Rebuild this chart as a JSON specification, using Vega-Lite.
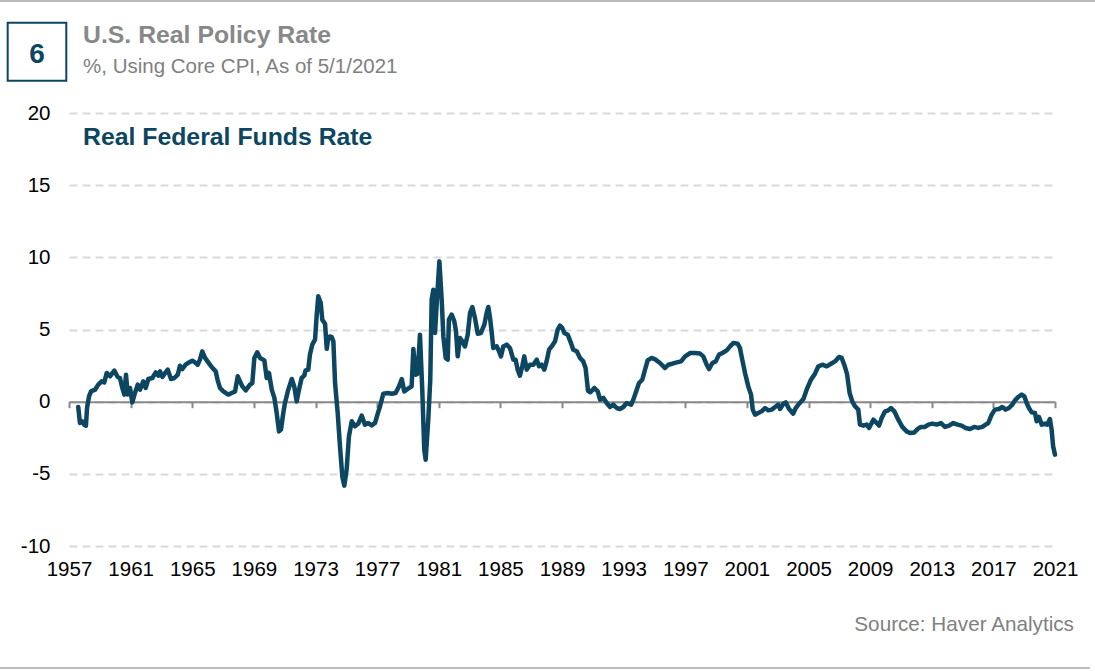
{
"$schema": "https://vega.github.io/schema/vega-lite/v6.json",
"width": 986,
"height": 433,
"autosize": {"type": "none"},
"padding": {"left": 69, "top": 113, "right": 40, "bottom": 125},
"background": "#ffffff",
"config": {"view": {"stroke": null}, "font": "Liberation Sans"},
"datasets": {"series": [
{"year":1957.60,"rate":-0.37},{"year":1957.71,"rate":-1.48},{"year":1957.86,"rate":-1.36},{"year":1957.99,"rate":-1.60},{"year":1958.10,"rate":-1.66},{"year":1958.17,"rate":-0.44},{"year":1958.30,"rate":0.37},{"year":1958.43,"rate":0.71},{"year":1958.69,"rate":0.83},{"year":1958.90,"rate":1.18},{"year":1959.12,"rate":1.41},{"year":1959.29,"rate":1.34},{"year":1959.45,"rate":1.99},{"year":1959.66,"rate":1.76},{"year":1959.94,"rate":2.15},{"year":1960.16,"rate":1.71},{"year":1960.31,"rate":1.64},{"year":1960.46,"rate":0.95},{"year":1960.59,"rate":0.49},{"year":1960.70,"rate":1.87},{"year":1960.81,"rate":0.49},{"year":1960.96,"rate":0.95},{"year":1961.11,"rate":-0.05},{"year":1961.28,"rate":0.60},{"year":1961.46,"rate":1.18},{"year":1961.61,"rate":0.83},{"year":1961.82,"rate":1.41},{"year":1961.98,"rate":0.95},{"year":1962.15,"rate":1.57},{"year":1962.41,"rate":1.64},{"year":1962.63,"rate":2.03},{"year":1962.80,"rate":1.80},{"year":1962.91,"rate":2.10},{"year":1963.06,"rate":1.71},{"year":1963.24,"rate":1.99},{"year":1963.41,"rate":2.22},{"year":1963.62,"rate":1.57},{"year":1963.84,"rate":1.64},{"year":1964.06,"rate":1.87},{"year":1964.20,"rate":2.49},{"year":1964.35,"rate":2.26},{"year":1964.57,"rate":2.56},{"year":1964.79,"rate":2.72},{"year":1965.00,"rate":2.84},{"year":1965.18,"rate":2.72},{"year":1965.35,"rate":2.56},{"year":1965.50,"rate":2.91},{"year":1965.65,"rate":3.49},{"year":1965.83,"rate":3.03},{"year":1966.04,"rate":2.72},{"year":1966.26,"rate":2.40},{"year":1966.52,"rate":2.10},{"year":1966.65,"rate":1.48},{"year":1966.80,"rate":0.95},{"year":1967.02,"rate":0.71},{"year":1967.34,"rate":0.49},{"year":1967.56,"rate":0.60},{"year":1967.78,"rate":0.71},{"year":1967.95,"rate":1.76},{"year":1968.10,"rate":1.41},{"year":1968.25,"rate":1.06},{"year":1968.47,"rate":0.78},{"year":1968.75,"rate":1.18},{"year":1968.90,"rate":1.29},{"year":1969.03,"rate":3.03},{"year":1969.22,"rate":3.42},{"year":1969.40,"rate":3.03},{"year":1969.68,"rate":2.86},{"year":1969.83,"rate":1.64},{"year":1969.98,"rate":1.99},{"year":1970.16,"rate":0.83},{"year":1970.33,"rate":0.26},{"year":1970.48,"rate":-0.78},{"year":1970.63,"rate":-2.06},{"year":1970.76,"rate":-1.94},{"year":1970.91,"rate":-0.78},{"year":1971.02,"rate":-0.09},{"year":1971.20,"rate":0.71},{"year":1971.46,"rate":1.57},{"year":1971.62,"rate":1.06},{"year":1971.78,"rate":0.02},{"year":1971.93,"rate":0.83},{"year":1972.10,"rate":1.64},{"year":1972.27,"rate":1.80},{"year":1972.36,"rate":2.17},{"year":1972.53,"rate":2.22},{"year":1972.64,"rate":3.26},{"year":1972.79,"rate":3.95},{"year":1972.97,"rate":4.30},{"year":1973.08,"rate":6.03},{"year":1973.18,"rate":7.30},{"year":1973.34,"rate":6.84},{"year":1973.44,"rate":5.68},{"year":1973.62,"rate":5.40},{"year":1973.73,"rate":3.66},{"year":1973.83,"rate":4.41},{"year":1973.92,"rate":4.52},{"year":1974.05,"rate":4.48},{"year":1974.16,"rate":4.18},{"year":1974.27,"rate":1.29},{"year":1974.44,"rate":-0.78},{"year":1974.59,"rate":-3.10},{"year":1974.74,"rate":-5.18},{"year":1974.87,"rate":-5.82},{"year":1975.02,"rate":-4.71},{"year":1975.17,"rate":-2.40},{"year":1975.35,"rate":-1.36},{"year":1975.56,"rate":-1.71},{"year":1975.78,"rate":-1.52},{"year":1976.00,"rate":-0.97},{"year":1976.21,"rate":-1.59},{"year":1976.43,"rate":-1.48},{"year":1976.65,"rate":-1.64},{"year":1976.86,"rate":-1.48},{"year":1977.04,"rate":-0.83},{"year":1977.19,"rate":-0.32},{"year":1977.40,"rate":0.55},{"year":1977.69,"rate":0.60},{"year":1977.95,"rate":0.55},{"year":1978.20,"rate":0.60},{"year":1978.42,"rate":1.06},{"year":1978.60,"rate":1.57},{"year":1978.76,"rate":0.71},{"year":1978.98,"rate":0.88},{"year":1979.24,"rate":1.06},{"year":1979.35,"rate":3.65},{"year":1979.50,"rate":1.87},{"year":1979.63,"rate":1.94},{"year":1979.78,"rate":4.64},{"year":1979.93,"rate":0.83},{"year":1980.06,"rate":-3.33},{"year":1980.15,"rate":-4.02},{"year":1980.32,"rate":-1.25},{"year":1980.45,"rate":1.52},{"year":1980.54,"rate":7.07},{"year":1980.65,"rate":7.76},{"year":1980.76,"rate":4.76},{"year":1980.87,"rate":6.84},{"year":1981.04,"rate":9.72},{"year":1981.19,"rate":7.07},{"year":1981.30,"rate":4.52},{"year":1981.45,"rate":3.03},{"year":1981.58,"rate":2.91},{"year":1981.66,"rate":5.68},{"year":1981.84,"rate":6.03},{"year":1982.01,"rate":5.56},{"year":1982.12,"rate":4.87},{"year":1982.23,"rate":3.14},{"year":1982.38,"rate":4.41},{"year":1982.53,"rate":4.18},{"year":1982.70,"rate":3.83},{"year":1982.88,"rate":4.64},{"year":1983.03,"rate":6.15},{"year":1983.18,"rate":6.56},{"year":1983.35,"rate":5.80},{"year":1983.53,"rate":4.71},{"year":1983.74,"rate":4.76},{"year":1983.96,"rate":5.34},{"year":1984.11,"rate":6.15},{"year":1984.22,"rate":6.56},{"year":1984.33,"rate":5.80},{"year":1984.44,"rate":4.76},{"year":1984.54,"rate":3.72},{"year":1984.76,"rate":3.83},{"year":1984.87,"rate":3.60},{"year":1985.04,"rate":3.14},{"year":1985.19,"rate":3.83},{"year":1985.41,"rate":3.95},{"year":1985.62,"rate":3.72},{"year":1985.84,"rate":2.91},{"year":1985.99,"rate":2.91},{"year":1986.12,"rate":2.22},{"year":1986.27,"rate":1.80},{"year":1986.42,"rate":2.45},{"year":1986.55,"rate":3.14},{"year":1986.71,"rate":2.22},{"year":1986.92,"rate":2.56},{"year":1987.14,"rate":2.56},{"year":1987.36,"rate":2.91},{"year":1987.51,"rate":2.45},{"year":1987.68,"rate":2.56},{"year":1987.85,"rate":2.22},{"year":1988.00,"rate":2.79},{"year":1988.16,"rate":3.60},{"year":1988.33,"rate":3.83},{"year":1988.55,"rate":4.18},{"year":1988.72,"rate":4.99},{"year":1988.87,"rate":5.27},{"year":1989.02,"rate":5.10},{"year":1989.15,"rate":4.76},{"year":1989.37,"rate":4.64},{"year":1989.58,"rate":4.07},{"year":1989.73,"rate":3.60},{"year":1989.96,"rate":3.49},{"year":1990.17,"rate":3.03},{"year":1990.38,"rate":2.79},{"year":1990.53,"rate":2.33},{"year":1990.69,"rate":0.75},{"year":1990.84,"rate":0.65},{"year":1991.10,"rate":0.95},{"year":1991.32,"rate":0.71},{"year":1991.47,"rate":0.14},{"year":1991.69,"rate":0.26},{"year":1991.90,"rate":-0.09},{"year":1992.12,"rate":-0.37},{"year":1992.33,"rate":-0.21},{"year":1992.55,"rate":-0.44},{"year":1992.76,"rate":-0.51},{"year":1992.98,"rate":-0.37},{"year":1993.20,"rate":-0.09},{"year":1993.48,"rate":-0.21},{"year":1993.63,"rate":0.14},{"year":1993.85,"rate":0.83},{"year":1994.00,"rate":1.29},{"year":1994.21,"rate":1.52},{"year":1994.39,"rate":2.22},{"year":1994.56,"rate":2.86},{"year":1994.82,"rate":3.03},{"year":1995.08,"rate":2.91},{"year":1995.36,"rate":2.68},{"year":1995.69,"rate":2.33},{"year":1995.90,"rate":2.56},{"year":1996.16,"rate":2.63},{"year":1996.45,"rate":2.72},{"year":1996.73,"rate":2.79},{"year":1996.99,"rate":3.14},{"year":1997.31,"rate":3.37},{"year":1997.64,"rate":3.37},{"year":1997.96,"rate":3.33},{"year":1998.17,"rate":3.14},{"year":1998.39,"rate":2.56},{"year":1998.54,"rate":2.26},{"year":1998.76,"rate":2.68},{"year":1998.98,"rate":2.79},{"year":1999.19,"rate":3.26},{"year":1999.41,"rate":3.37},{"year":1999.69,"rate":3.55},{"year":1999.91,"rate":3.83},{"year":2000.12,"rate":4.07},{"year":2000.40,"rate":4.02},{"year":2000.55,"rate":3.72},{"year":2000.70,"rate":2.91},{"year":2000.88,"rate":1.99},{"year":2001.09,"rate":1.06},{"year":2001.27,"rate":0.49},{"year":2001.38,"rate":-0.55},{"year":2001.53,"rate":-0.90},{"year":2001.74,"rate":-0.78},{"year":2001.96,"rate":-0.67},{"year":2002.18,"rate":-0.44},{"year":2002.39,"rate":-0.60},{"year":2002.61,"rate":-0.55},{"year":2002.83,"rate":-0.37},{"year":2003.04,"rate":-0.21},{"year":2003.15,"rate":-0.51},{"year":2003.37,"rate":-0.14},{"year":2003.52,"rate":-0.05},{"year":2003.74,"rate":-0.51},{"year":2004.01,"rate":-0.83},{"year":2004.17,"rate":-0.44},{"year":2004.39,"rate":-0.14},{"year":2004.67,"rate":0.19},{"year":2004.88,"rate":0.83},{"year":2005.16,"rate":1.52},{"year":2005.42,"rate":1.94},{"year":2005.64,"rate":2.45},{"year":2005.90,"rate":2.56},{"year":2006.18,"rate":2.45},{"year":2006.46,"rate":2.63},{"year":2006.72,"rate":2.79},{"year":2006.98,"rate":3.10},{"year":2007.15,"rate":3.03},{"year":2007.32,"rate":2.56},{"year":2007.50,"rate":1.93},{"year":2007.67,"rate":0.60},{"year":2007.84,"rate":0.02},{"year":2008.02,"rate":-0.32},{"year":2008.23,"rate":-0.55},{"year":2008.34,"rate":-1.59},{"year":2008.56,"rate":-1.66},{"year":2008.78,"rate":-1.59},{"year":2008.93,"rate":-1.82},{"year":2009.21,"rate":-1.25},{"year":2009.43,"rate":-1.48},{"year":2009.58,"rate":-1.66},{"year":2009.75,"rate":-1.13},{"year":2009.97,"rate":-0.67},{"year":2010.18,"rate":-0.60},{"year":2010.36,"rate":-0.44},{"year":2010.57,"rate":-0.67},{"year":2010.83,"rate":-1.25},{"year":2011.09,"rate":-1.75},{"year":2011.37,"rate":-2.06},{"year":2011.59,"rate":-2.17},{"year":2011.87,"rate":-2.13},{"year":2012.09,"rate":-1.89},{"year":2012.30,"rate":-1.75},{"year":2012.56,"rate":-1.75},{"year":2012.78,"rate":-1.59},{"year":2013.04,"rate":-1.52},{"year":2013.32,"rate":-1.59},{"year":2013.60,"rate":-1.48},{"year":2013.86,"rate":-1.75},{"year":2014.12,"rate":-1.66},{"year":2014.40,"rate":-1.48},{"year":2014.68,"rate":-1.59},{"year":2014.94,"rate":-1.66},{"year":2015.20,"rate":-1.82},{"year":2015.48,"rate":-1.89},{"year":2015.76,"rate":-1.75},{"year":2016.02,"rate":-1.82},{"year":2016.28,"rate":-1.75},{"year":2016.50,"rate":-1.59},{"year":2016.67,"rate":-1.48},{"year":2016.89,"rate":-0.90},{"year":2017.10,"rate":-0.55},{"year":2017.36,"rate":-0.51},{"year":2017.58,"rate":-0.37},{"year":2017.80,"rate":-0.55},{"year":2018.01,"rate":-0.44},{"year":2018.22,"rate":-0.21},{"year":2018.40,"rate":0.09},{"year":2018.62,"rate":0.33},{"year":2018.84,"rate":0.49},{"year":2019.01,"rate":0.37},{"year":2019.16,"rate":-0.09},{"year":2019.31,"rate":-0.44},{"year":2019.49,"rate":-0.74},{"year":2019.70,"rate":-0.78},{"year":2019.81,"rate":-1.36},{"year":2019.96,"rate":-1.06},{"year":2020.14,"rate":-1.59},{"year":2020.35,"rate":-1.52},{"year":2020.50,"rate":-1.59},{"year":2020.67,"rate":-1.20},{"year":2020.78,"rate":-1.94},{"year":2020.88,"rate":-3.10},{"year":2021.00,"rate":-3.67}
]},
"layer": [
{
"data": {"name": "series"},
"mark": {"type": "line", "color": "#0c4660", "strokeWidth": 4.5, "strokeJoin": "round", "strokeCap": "round"},
"encoding": {
"x": {"field": "year", "type": "quantitative",
"scale": {"domain": [1957, 2021], "nice": false, "zero": false},
"axis": {"title": null, "values": [1957,1961,1965,1969,1973,1977,1981,1985,1989,1993,1997,2001,2005,2009,2013,2017,2021],
"format": "d", "grid": false, "domain": true, "domainColor": "#898989", "domainWidth": 2,
"ticks": true, "tickColor": "#898989", "tickWidth": 2, "tickSize": 6, "offset": -144.33,
"labelPadding": 168, "labelBaseline": "alphabetic", "labelFontSize": 20.5, "labelColor": "#000000",
"labelFont": "Liberation Sans", "labelFlush": false, "labelOverlap": false}},
"y": {"field": "rate", "type": "quantitative",
"scale": {"domain": [-10, 20], "nice": false, "zero": false},
"axis": {"title": null, "values": [-10,-5,0,5,10,15,20], "labelExpr": "'' + datum.value", "grid": true, "gridColor": "#d9d9d9",
"gridDash": [8, 5], "gridWidth": 2, "domain": false, "ticks": false, "tickSize": 0,
"labelPadding": 19, "labelFontSize": 20.5, "labelColor": "#000000", "labelFont": "Liberation Sans"}}
}
},
{
"data": {"values": [{}]},
"mark": {"type": "text", "text": "Real Federal Funds Rate", "align": "left", "baseline": "alphabetic",
"font": "Liberation Sans", "fontSize": 24.8, "fontWeight": "bold", "color": "#0c4660"},
"encoding": {"x": {"datum": 1957.91, "type": "quantitative"}, "y": {"datum": 17.78, "type": "quantitative"}}
},
{
"data": {"values": [{}]},
"mark": {"type": "text", "text": "U.S. Real Policy Rate", "align": "left", "baseline": "alphabetic",
"font": "Liberation Sans", "fontSize": 24.8, "fontWeight": "bold", "color": "#888888"},
"encoding": {"x": {"datum": 1957.91, "type": "quantitative"}, "y": {"datum": 24.83, "type": "quantitative"}}
},
{
"data": {"values": [{}]},
"mark": {"type": "text", "text": "%, Using Core CPI, As of 5/1/2021", "align": "left", "baseline": "alphabetic",
"font": "Liberation Sans", "fontSize": 20.5, "color": "#808080"},
"encoding": {"x": {"datum": 1957.91, "type": "quantitative"}, "y": {"datum": 22.79, "type": "quantitative"}}
},
{
"data": {"values": [{}]},
"mark": {"type": "rect", "filled": false, "stroke": "#0c4660", "strokeWidth": 2},
"encoding": {"x": {"datum": 1953.02, "type": "quantitative"}, "x2": {"datum": 1956.825},
"y": {"datum": 26.257, "type": "quantitative"}, "y2": {"datum": 22.238}}
},
{
"data": {"values": [{}]},
"mark": {"type": "text", "text": "6", "align": "center", "baseline": "alphabetic",
"font": "Liberation Sans", "fontSize": 28, "fontWeight": "bold", "color": "#0c4660"},
"encoding": {"x": {"datum": 1954.92, "type": "quantitative"}, "y": {"datum": 23.44, "type": "quantitative"}}
},
{
"data": {"values": [{}]},
"mark": {"type": "text", "text": "Source: Haver Analytics", "align": "right", "baseline": "alphabetic",
"font": "Liberation Sans", "fontSize": 20.7, "color": "#808080"},
"encoding": {"x": {"datum": 2022.23, "type": "quantitative"}, "y": {"datum": -15.89, "type": "quantitative"}}
},
{
"data": {"values": [{}]},
"mark": {"type": "rule", "color": "#a6a6a6", "strokeWidth": 1.5},
"encoding": {"x": {"datum": 1952.52, "type": "quantitative"}, "x2": {"datum": 2023.6},
"y": {"datum": 27.76, "type": "quantitative"}}
},
{
"data": {"values": [{}]},
"mark": {"type": "rule", "color": "#a6a6a6", "strokeWidth": 1.5},
"encoding": {"x": {"datum": 1952.52, "type": "quantitative"}, "x2": {"datum": 2023.27},
"y": {"datum": -18.45, "type": "quantitative"}}
}
]
}
